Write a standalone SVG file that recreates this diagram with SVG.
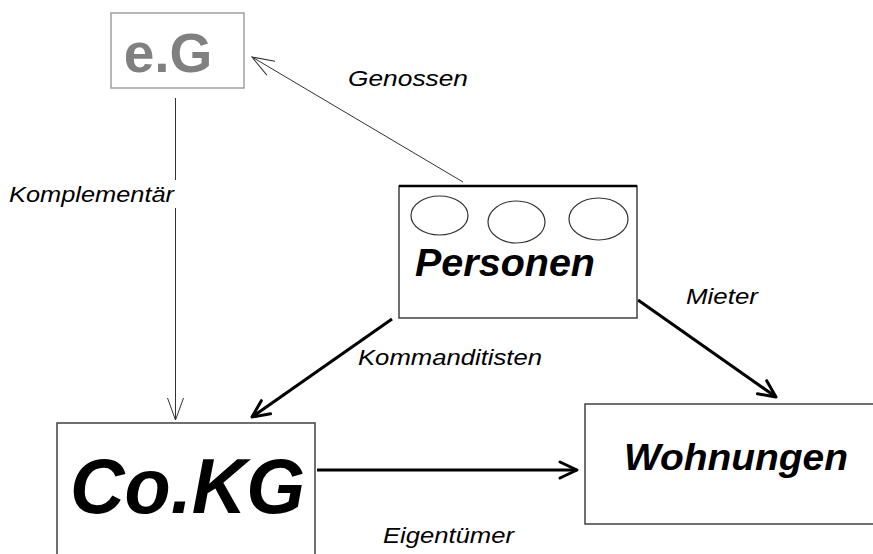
<svg xmlns="http://www.w3.org/2000/svg" width="873" height="554" viewBox="0 0 873 554">
<defs>
<style>
.box{fill:#fff;stroke:#404040;stroke-width:1.5}
.lbl{font-family:"Liberation Sans",Arial,sans-serif;font-style:italic;font-size:22px;fill:#000}
.big{font-family:"Liberation Sans",Arial,sans-serif;font-style:italic;font-weight:bold;fill:#000}
.thin{stroke:#333;stroke-width:1;fill:none}
.thick{stroke:#000;stroke-width:3;fill:none}
.ell{fill:none;stroke:#333;stroke-width:1.2}
</style>
<marker id="ahThin" markerUnits="userSpaceOnUse" markerWidth="30" markerHeight="24" refX="24" refY="10" orient="auto" overflow="visible">
<path d="M2,2 L24,10 L2,18" fill="none" stroke="#333" stroke-width="1"/>
</marker>
<marker id="ahThick" markerUnits="userSpaceOnUse" markerWidth="24" markerHeight="24" refX="20" refY="10" orient="auto" overflow="visible">
<path d="M3,2 L20,10 L3,18" fill="none" stroke="#000" stroke-width="3" stroke-linejoin="round" stroke-linecap="round"/>
</marker>
</defs>
<rect width="873" height="554" fill="#fff"/>
<g id="connectors">
<path class="thin" d="M463,182 L252,57" marker-end="url(#ahThin)"/>
<path class="thin" d="M175.5,98 V180 M175.5,208 V420" marker-end="url(#ahThin)"/>
<path class="thick" d="M392,319 L252,417" marker-end="url(#ahThick)"/>
<path class="thick" d="M638,300 L776,397" marker-end="url(#ahThick)"/>
<path class="thick" d="M317,470 L577,470" marker-end="url(#ahThick)"/>
<text class="lbl" x="348" y="86" textLength="120" lengthAdjust="spacingAndGlyphs">Genossen</text>
<text class="lbl" x="9" y="202" textLength="165" lengthAdjust="spacingAndGlyphs">Komplementär</text>
<text class="lbl" x="358" y="365" textLength="184" lengthAdjust="spacingAndGlyphs">Kommanditisten</text>
<text class="lbl" x="686" y="304" textLength="72" lengthAdjust="spacingAndGlyphs">Mieter</text>
<text class="lbl" x="383" y="543" textLength="131" lengthAdjust="spacingAndGlyphs">Eigentümer</text>
</g>
<g id="node-eG">
<rect x="111" y="13" width="133" height="75" fill="#fff" stroke="#a0a0a0" stroke-width="1.5"/>
<text x="168" y="72" text-anchor="middle" font-family="'Liberation Sans',Arial,sans-serif" font-weight="bold" font-size="55" fill="#808080">e.G</text>
</g>
<g id="node-personen">
<rect class="box" x="399" y="186" width="238" height="132"/>
<line x1="399" y1="186" x2="637" y2="186" stroke="#000" stroke-width="2.5"/>
<ellipse class="ell" cx="439.5" cy="215.5" rx="28.5" ry="19.5"/>
<ellipse class="ell" cx="516.5" cy="222" rx="28.5" ry="21"/>
<ellipse class="ell" cx="598.5" cy="219" rx="29.5" ry="21"/>
<text class="big" x="415" y="276" font-size="38" textLength="180" lengthAdjust="spacingAndGlyphs">Personen</text>
</g>
<g id="node-cokg">
<rect class="box" x="57" y="423" width="258" height="145"/>
<text class="big" x="70" y="513" font-size="77" textLength="235" lengthAdjust="spacingAndGlyphs">Co.KG</text>
</g>
<g id="node-wohnungen">
<rect class="box" x="585" y="404" width="295" height="120"/>
<text class="big" x="624" y="470" font-size="37" textLength="224" lengthAdjust="spacingAndGlyphs">Wohnungen</text>
</g>
</svg>
